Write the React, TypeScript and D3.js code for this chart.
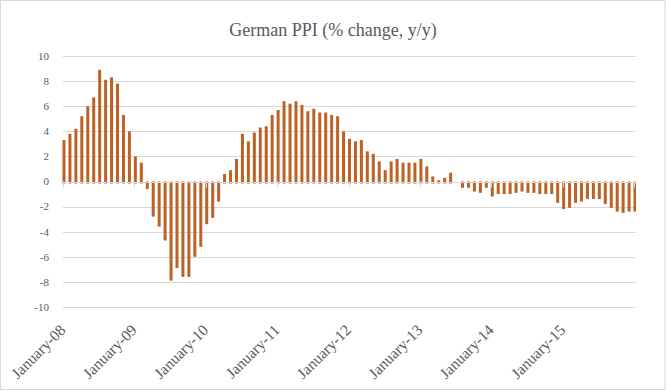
import React from "react";
import * as d3 from "d3";

const years = ["08", "09", "10", "11", "12", "13", "14", "15"];
const v2008 = [3.3, 3.8, 4.2, 5.2, 6.0, 6.7, 8.9, 8.1, 8.3, 7.8, 5.3, 4.0];
const v2009 = [2.0, 1.5, -0.6, -2.8, -3.6, -4.7, -7.9, -6.9, -7.6, -7.6, -6.0, -5.2];
const v2010 = [-3.4, -2.9, -1.6, 0.6, 0.9, 1.8, 3.8, 3.2, 3.9, 4.3, 4.4, 5.3];
const v2011 = [5.7, 6.4, 6.2, 6.4, 6.1, 5.6, 5.8, 5.5, 5.5, 5.3, 5.2, 4.0];
const v2012 = [3.4, 3.2, 3.3, 2.4, 2.2, 1.6, 0.9, 1.6, 1.8, 1.5, 1.5, 1.5];
const v2013 = [1.8, 1.2, 0.4, 0.1, 0.3, 0.7, 0.0, -0.5, -0.5, -0.8, -0.9, -0.5];
const v2014 = [-1.2, -1.0, -1.0, -1.0, -0.9, -0.8, -0.9, -0.9, -1.0, -1.0, -1.0, -1.7];
const v2015 = [-2.2, -2.1, -1.7, -1.6, -1.4, -1.4, -1.4, -1.8, -2.1, -2.4, -2.5, -2.4];
const v2016 = [-2.4];
const yTicks = [10, 8, 6, 4, 2, 0, -2, -4, -6, -8, -10];

const values = [...v2008, ...v2009, ...v2010, ...v2011, ...v2012, ...v2013, ...v2014, ...v2015, ...v2016];

const W = 666;
const H = 392;
const FONT = "'Liberation Serif', 'Times New Roman', serif";

export default function App() {
  const idx = values.map((_, i) => i);
  const x = d3.scaleBand<number>().domain(idx).range([61, 638]).padding(0);
  const step = x.step();
  const y = d3.scaleLinear().domain([-10, 10]).range([307, 56]);
  const y0 = y(0);
  const plotL = 63;
  const plotR = 636;
  const barW = 3;
  const cx = (i: number) => (x(i) as number) + step / 2;
  const tickIdx = d3.range(0, values.length, 12);

  return (
    <svg
      width={W}
      height={H}
      style={{ position: "absolute", left: 0, top: 0, background: "#fff" }}
    >
      <defs>
        <clipPath id="plot">
          <rect x={plotL - 1} y={40} width={plotR - plotL + 1} height={300} />
        </clipPath>
      </defs>
      <rect x={0.5} y={0.5} width={664.5} height={389} fill="#fff" stroke="#d9d9d9" />
      <text
        x={333}
        y={36}
        textAnchor="middle"
        fontFamily={FONT}
        fontSize={18}
        fill="#595959"
      >
        German PPI (% change, y/y)
      </text>
      {yTicks.map((t) => (
        <g key={t}>
          <line x1={plotL} x2={plotR} y1={Math.round(y(t)) + 0.5} y2={Math.round(y(t)) + 0.5} stroke="#d9d9d9" strokeWidth={1} />
          <text
            x={49}
            y={y(t)}
            dy="0.35em"
            textAnchor="end"
            fontFamily={FONT}
            fontSize={11}
            fill="#595959"
          >
            {t}
          </text>
        </g>
      ))}
      <g clipPath="url(#plot)">
        {values.map((v, i) => {
          const top = v >= 0 ? y(v) : y0;
          const bot = v >= 0 ? y0 + 2 : y(v);
          if (v === 0) return null;
          return (
            <rect
              key={i}
              x={cx(i) - barW / 2}
              y={top}
              width={barW}
              height={Math.max(0, bot - top)}
              fill="#bd6226"
            />
          );
        })}
      </g>
      <line x1={plotL} x2={plotR} y1={Math.round(y0) + 0.5} y2={Math.round(y0) + 0.5} stroke="#d9d9d9" strokeWidth={1} />
      {tickIdx.map((i) => (
        <line
          key={i}
          x1={Math.round(cx(i) - 1) + 0.5}
          x2={Math.round(cx(i) - 1) + 0.5}
          y1={y0}
          y2={y0 + 6}
          stroke="#d0d6dc"
          strokeWidth={1}
        />
      ))}
      {years.map((yr, k) => {
        const ax = cx(k * 12) + 2.5;
        const ay = 331;
        return (
          <text
            key={yr}
            transform={`translate(${ax},${ay}) rotate(-45)`}
            textAnchor="end"
            fontFamily={FONT}
            fontSize={15.5}
            fill="#595959"
          >
            {`January-${yr}`}
          </text>
        );
      })}
    </svg>
  );
}
